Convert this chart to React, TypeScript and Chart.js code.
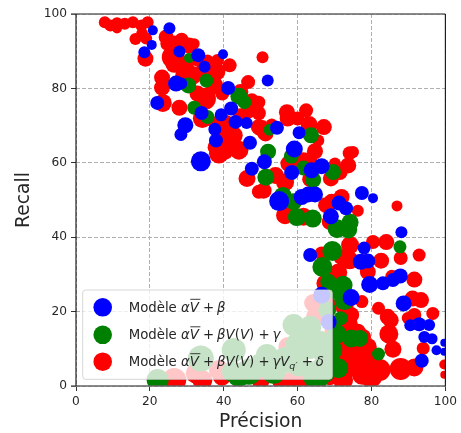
import { useEffect, useRef } from "react";
import { Chart, registerables } from "chart.js";

Chart.register(...registerables);

const FONT = '"DejaVu Sans"';
const tickLabels = [0, 20, 40, 60, 80, 100];
const xTitle = "Précision";
const yTitle = "Recall";

// [précision, recall, marker size]
const blueModel: number[][] = [
  [20.8,95.6,5],[25.3,96.2,6],[20.5,91.7,5],[18.5,89.7,6],[28.0,89.9,6],[33.1,88.9,7],[39.8,89.2,5],[34.8,85.8,6],
  [27.1,81.3,8],[28.5,81.3,6],[41.2,80.1,7],[22.0,76.1,7],[42.0,74.6,7],[34.0,73.4,7],[39.3,72.9,6.5],[43.2,71.0,7],
  [46.2,70.7,6],[29.6,70.1,8],[37.6,69.0,6.5],[28.4,67.6,6.5],[37.9,66.0,7],[47.1,65.4,7],[33.8,60.4,10],[47.6,58.4,7],
  [51.9,82.1,6],[54.4,69.4,7],[60.4,68.1,6.5],[59.1,63.7,8.5],[66.5,59.1,8],[63.8,58.0,8],[58.4,57.4,7.5],[51.0,60.3,7.5],
  [55.0,49.7,10],[61.1,50.8,8],[62.9,51.5,8],[64.7,51.5,8],[69.0,45.6,8],[63.4,35.2,7],[71.2,49.2,7.5],[73.1,47.8,7],
  [77.4,51.9,7],[80.4,50.5,5],[88.1,41.3,6],[78.0,37.1,6.5],[77.1,33.4,8],[79.0,33.6,7.5],[79.5,27.3,8.5],[83.1,27.6,7],
  [85.8,28.5,7],[87.8,29.6,7.5],[88.7,22.2,8],[74.5,23.8,8.5],[66.5,24.4,8.5],[68.4,17.2,8],[90.5,16.3,6],[92.9,16.6,7],
  [95.6,16.4,6],[94.3,13.2,6],[96.4,12.7,5.5],[97.6,9.6,5],[99.7,11.6,4],[99.7,9.2,4],[93.6,6.8,7],
];
const greenModel: number[][] = [
  [30.6,88.2,5],[30.4,80.8,8],[35.3,82.1,7],[44.1,77.9,8.5],[45.6,76.3,7],[32.0,74.8,7],[35.6,72.3,7],[52.4,68.9,6],
  [63.6,67.4,8],[52.0,63.0,8],[58.3,61.8,7.5],[61.6,58.6,7.5],[51.4,56.1,8.5],[64.2,55.4,8],[69.6,57.5,8],[56.0,51.1,9],
  [58.9,49.5,8.5],[59.8,45.4,9],[64.1,45.0,9],[70.7,42.3,9.5],[74.2,44.0,8.5],[73.7,42.1,9],[87.7,37.4,6.5],[69.4,36.3,10],
  [66.7,32.0,10],[68.3,28.0,8],[72.3,27.1,9.5],[72.6,23.1,10],[69.6,25.8,9],[71.7,18.2,7],[74.5,12.8,9],[76.8,12.8,8.5],
  [81.9,8.6,6.5],[71.0,4.8,10],[22.1,1.6,11],[33.8,7.4,13],[42.7,9.7,12],[44.1,3.0,12],[51.7,8.3,11],[54.0,3.0,8],
  [58.9,16.4,11],[63.4,15.9,11],[66.1,11.8,11],[69.1,9.7,11],[65.1,3.0,14],[66.9,9.7,12],
  [46.8,3.8,13],[50.0,5.6,12],[53.5,3.8,12],[56.7,7.0,13],[60.2,11.0,13],[63.2,11.0,14],[60.2,5.6,11],[42.2,3.8,10],[66.9,4.3,13],
  [68.0,20.5,9],[70.5,14.0,10],[68.5,5.5,12],
];
const redModel: number[][] = [
  [7.8,97.8,5],[9.3,96.9,5],[11.1,97.5,5],[11.1,96.1,4],[13.2,97.4,5],[15.4,97.8,5],[17.7,96.9,5],[19.4,97.8,5],
  [16.1,93.3,5],[17.9,94.7,5],[19.0,93.4,5],[18.8,88.0,7],[32.0,92.0,4.5],[24.4,93.8,6.5],[26.6,92.1,7],[28.6,93.1,6],
  [26.2,88.4,10],[28.4,86.6,8],[29.8,85.3,7.5],[26.6,86.6,8],[35.6,87.5,5],[38.3,87.5,5.5],[41.6,86.2,6],[23.3,82.9,7],
  [23.3,80.2,7],[31.5,83.5,8.5],[34.2,84.4,7],[35.6,83.5,7],[39.6,78.6,6],[34.9,77.2,10],[32.9,78.6,7],[23.5,76.1,8],
  [28.0,74.8,7],[34.2,71.9,8.5],[40.5,70.5,8],[38.7,62.5,9],[41.4,65.2,8],[44.1,63.4,8.5],[41.4,67.8,7.5],[46.3,55.8,7.5],
  [49.5,52.2,6],[46.6,81.7,6],[44.5,79.0,7],[48.6,75.0,7],[46.8,74.1,7],[49.5,69.6,7],[50.5,88.4,5],[47.6,76.8,6],
  [44.5,72.8,6],[37.8,70.6,6],[40.5,66.9,7],[37.8,64.2,7],[49.5,76.3,5.5],[49.5,73.3,6],[57.1,73.6,7],[57.3,71.9,7],
  [60.0,71.9,6],[62.3,74.1,6],[63.1,70.3,7.5],[67.1,69.6,7],[53.0,70.3,5],[50.3,69.2,7.5],[51.3,67.9,7],[65.6,66.0,5],
  [64.7,63.1,7],[74.1,62.6,6],[75.0,62.9,5],[73.7,59.3,7],[70.1,59.8,5],[71.4,57.5,7],[69.0,55.8,7],[54.0,56.6,7.5],
  [61.6,60.7,7],[63.4,61.1,6],[58.3,59.3,6],[57.5,59.8,7],[50.8,52.5,7],[56.6,54.8,8],[63.4,55.6,7],[69.2,49.5,7],
  [71.9,50.8,7],[56.6,45.9,8],[61.6,45.5,8],[68.7,44.1,7],[66.5,35.6,6],[71.8,34.7,7],[73.1,33.8,6],[86.9,48.4,4.5],
  [76.3,47.1,5],[67.7,48.6,7],[74.2,37.9,8],[80.4,38.7,6],[84.0,38.7,7],[92.9,35.2,5.5],[87.9,34.4,6],[82.6,33.7,7],
  [74.1,33.8,8],[79.0,30.7,7],[91.6,28.6,7],[85.5,29.5,5.5],[67.4,27.6,7.5],[68.8,29.3,7],[70.1,28.0,8],[77.4,22.7,5.5],
  [91.1,23.5,7],[93.4,23.1,7],[96.6,19.5,5.5],[81.9,20.9,5.5],[84.4,18.6,7],[85.2,17.7,7],[89.8,18.3,5],[91.6,19.1,6],
  [84.7,14.0,8.5],[85.8,9.9,7.5],[94.0,10.1,5.5],[99.7,5.8,4],[99.7,3.0,3],[87.9,4.6,10],[91.6,5.0,8],[82.2,4.3,10],
  [79.9,2.5,10],[75.9,6.1,10],[77.7,13.2,7],[79.0,10.5,8],[76.3,14.6,7],[74.1,16.8,7],[74.5,19.1,7],[72.8,13.2,8],
  [71.0,10.6,7],[73.2,3.8,7],[68.7,2.1,6],[79.0,3.8,8.5],[58.3,0.8,10],[57.5,10.5,9],[26.6,1.6,11],[32.4,3.4,9],
  [34.2,1.6,9],[38.7,4.3,9],[39.5,2.5,8],[67.4,21.7,10],[64.2,22.3,8],[64.7,18.6,8],[54.8,6.4,8],[55.6,1.3,8],[61.6,1.6,8],
  [30.6,91.5,7],[29.3,83.5,8],[25.0,92.1,7],[37.4,80.8,8],[40.0,63.4,9],[39.2,68.7,8],[42.7,67.4,8],[33.0,88.0,7],[38.0,84.5,8],
  [75.0,11.0,10],[72.3,7.0,10],[70.0,15.0,9],[76.3,9.7,9],[77.5,3.0,9],[80.4,7.0,8],[72.3,1.6,9],[70.0,8.0,9],
  [72.5,22.0,9],[71.0,30.5,8],[66.5,12.0,9],[60.0,9.0,9],[50.0,1.5,8],[62.5,0.5,9],
];

const redGrowth = 1;

type Seg = { t: string; i?: boolean; sub?: boolean; bar?: boolean };
const prefix: Seg[] = [
  { t: "Modèle " },
  { t: "α", i: true },
  { t: "V", i: true, bar: true },
  { t: " + " },
  { t: "β", i: true },
];
const legendEntries: { color: string; segs: Seg[] }[] = [
  { color: "#0000ff", segs: prefix },
  {
    color: "#008000",
    segs: [...prefix, { t: "V", i: true }, { t: "(" }, { t: "V", i: true }, { t: ")" }, { t: " + " }, { t: "γ", i: true }],
  },
  {
    color: "#ff0000",
    segs: [
      ...prefix, { t: "V", i: true }, { t: "(" }, { t: "V", i: true }, { t: ")" }, { t: " + " }, { t: "γ", i: true },
      { t: "V", i: true }, { t: "q′", i: true, sub: true }, { t: " + " }, { t: "δ", i: true },
    ],
  },
];

const toPoints = (rows: number[][], grow = 0) => rows.map(([x, y, r]) => ({ x, y, r: r + grow }));

const overlay = {
  id: "overlay",
  afterDatasetsDraw(chart: any) {
    const { ctx, chartArea: a } = chart;
    ctx.save();
    // frame
    ctx.strokeStyle = "#666666";
    ctx.lineWidth = 1.6;
    ctx.beginPath();
    ctx.moveTo(a.left - 5, a.top);
    ctx.lineTo(a.right, a.top);
    ctx.moveTo(a.left - 5, a.bottom);
    ctx.lineTo(a.right, a.bottom);
    ctx.stroke();
    ctx.strokeStyle = "#111111";
    ctx.lineWidth = 1.1;
    ctx.beginPath();
    ctx.moveTo(a.left, a.top);
    ctx.lineTo(a.left, a.bottom);
    ctx.moveTo(a.right, a.top);
    ctx.lineTo(a.right, a.bottom);
    ctx.stroke();
    // legend box
    const bx = a.left + 6.7, by = a.top + 276, bw = 249.6, bh = 89.3;
    ctx.beginPath();
    ctx.roundRect(bx, by, bw, bh, 3);
    ctx.fillStyle = "rgba(255,255,255,0.78)";
    ctx.fill();
    ctx.strokeStyle = "rgba(204,204,204,0.8)";
    ctx.lineWidth = 1;
    ctx.stroke();
    // legend rows
    const rowY = [307.3, 334.8, 361.7];
    ctx.textBaseline = "alphabetic";
    ctx.textAlign = "left";
    legendEntries.forEach((entry, row) => {
      ctx.beginPath();
      ctx.arc(a.left + 26.7, rowY[row], 9.3, 0, Math.PI * 2);
      ctx.fillStyle = entry.color;
      ctx.fill();
      let x = a.left + 52.7;
      const base = rowY[row] + 4.5;
      ctx.fillStyle = "#262626";
      entry.segs.forEach((s) => {
        const size = s.sub ? 9.5 : 13.3;
        ctx.font = `${s.i ? "italic " : ""}${size}px ${FONT}`;
        const y = base + (s.sub ? 3 : 0);
        ctx.fillText(s.t, x, y);
        const w = ctx.measureText(s.t).width;
        if (s.bar) {
          ctx.strokeStyle = "#262626";
          ctx.lineWidth = 0.9;
          ctx.beginPath();
          ctx.moveTo(x + 0.5, base - 12.5);
          ctx.lineTo(x + w + 1.5, base - 12.5);
          ctx.stroke();
        }
        x += w * (s.t === " + " ? 0.93 : 1);
      });
    });
    ctx.restore();
  },
};

export default function App() {
  const ref = useRef<HTMLCanvasElement>(null);
  useEffect(() => {
    document.body.style.margin = "0";
    const axis = (title: string, titleEdge: number) => ({
      type: "linear" as const,
      min: 0,
      max: 100,
      afterBuildTicks: (s: any) => {
        s.ticks = tickLabels.map((value) => ({ value }));
      },
      ticks: { color: "#262626", font: { family: FONT, size: 12.2 }, padding: 4, maxRotation: 0, autoSkip: false },
      grid: {
        color: "#b0b0b0",
        lineWidth: 1,
        tickColor: "#333333",
        tickLength: 5,
        tickBorderDash: [],
      },
      border: { display: false, dash: [4, 2] },
      title: { display: true, text: title, color: "#262626", font: { family: FONT, size: 18.7 }, padding: { top: titleEdge, bottom: 0 } },
    });
    const seriesStyle = (color: string) => ({
      backgroundColor: color,
      borderColor: color,
      borderWidth: 0,
      hoverRadius: 0,
      hoverBorderWidth: 0,
    });
    const chart = new Chart(ref.current!, {
      type: "bubble",
      data: {
        datasets: [
          { label: "Modèle αV + β", data: toPoints(blueModel), ...seriesStyle("#0000ff") },
          { label: "Modèle αV + βV(V) + γ", data: toPoints(greenModel), ...seriesStyle("#008000") },
          { label: "Modèle αV + βV(V) + γVq′ + δ", data: toPoints(redModel, redGrowth), ...seriesStyle("#ff0000") },
        ],
      },
      options: {
        responsive: false,
        animation: false,
        layout: { padding: { top: 14, right: 13, left: 0, bottom: 0 } },
        plugins: { legend: { display: false }, tooltip: { enabled: false } },
        scales: {
          x: { ...axis(xTitle, -2), position: "bottom", afterFit: (s: any) => { s.height = 47; } },
          y: { ...axis(yTitle, 13), position: "left", afterFit: (s: any) => { s.width = 76; } },
        },
      },
      plugins: [overlay],
    });
    return () => chart.destroy();
  }, []);
  return (
    <div style={{ position: "absolute", left: 0, top: 0, width: 461, height: 433 }}>
      <canvas ref={ref} width={461} height={433} style={{ display: "block" }} />
    </div>
  );
}
